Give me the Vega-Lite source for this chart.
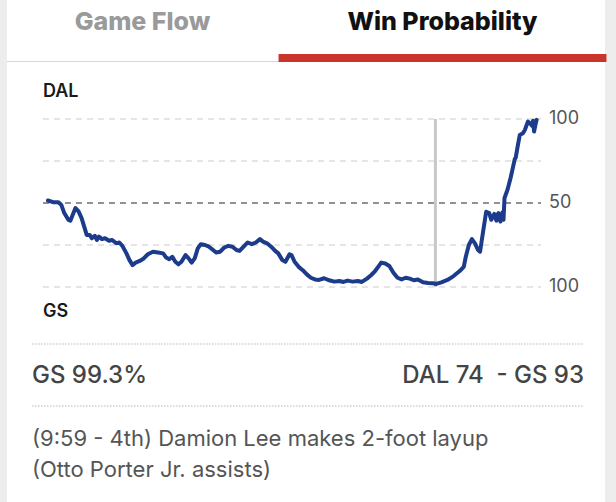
{
  "$schema": "https://vega.github.io/schema/vega-lite/v6.json",
  "background": "#ededed",
  "padding": {"left": 6, "right": 12, "top": 0, "bottom": 0},
  "autosize": {"type": "pad"},
  "spacing": 0,
  "bounds": "flush",
  "config": {"view": {"stroke": null, "fill": "#ffffff"}, "font": "Inter"},
  "datasets": {
    "tabs": [
      {"tab": "Game Flow", "active": 0},
      {"tab": "Win Probability", "active": 1}
    ],
    "wp": [
      {"minute": 0.0, "dal": 51.5}, {"minute": 0.5, "dal": 50.5}, {"minute": 1.0, "dal": 50.5}, {"minute": 1.3, "dal": 49},
      {"minute": 1.6, "dal": 44}, {"minute": 2.0, "dal": 40}, {"minute": 2.2, "dal": 39.5}, {"minute": 2.5, "dal": 44},
      {"minute": 2.7, "dal": 47}, {"minute": 3.0, "dal": 45}, {"minute": 3.3, "dal": 41}, {"minute": 3.6, "dal": 35},
      {"minute": 3.8, "dal": 31}, {"minute": 4.1, "dal": 31}, {"minute": 4.3, "dal": 29}, {"minute": 4.6, "dal": 30.5},
      {"minute": 4.8, "dal": 28}, {"minute": 5.0, "dal": 30}, {"minute": 5.3, "dal": 28.5}, {"minute": 5.6, "dal": 29},
      {"minute": 6.0, "dal": 27.5}, {"minute": 6.3, "dal": 28}, {"minute": 6.7, "dal": 26}, {"minute": 7.0, "dal": 26.5},
      {"minute": 7.3, "dal": 24.5}, {"minute": 7.7, "dal": 20}, {"minute": 8.0, "dal": 16}, {"minute": 8.3, "dal": 13},
      {"minute": 8.6, "dal": 14.5}, {"minute": 9.0, "dal": 15.5}, {"minute": 9.4, "dal": 17}, {"minute": 9.8, "dal": 19.5},
      {"minute": 10.3, "dal": 21}, {"minute": 10.8, "dal": 20.5}, {"minute": 11.3, "dal": 20}, {"minute": 11.6, "dal": 17.5},
      {"minute": 11.9, "dal": 16.5}, {"minute": 12.2, "dal": 18}, {"minute": 12.5, "dal": 15}, {"minute": 12.8, "dal": 13.5},
      {"minute": 13.1, "dal": 15}, {"minute": 13.5, "dal": 19}, {"minute": 13.8, "dal": 17}, {"minute": 14.1, "dal": 14.5},
      {"minute": 14.4, "dal": 17}, {"minute": 14.7, "dal": 23}, {"minute": 15.0, "dal": 25.5}, {"minute": 15.4, "dal": 25},
      {"minute": 15.8, "dal": 24}, {"minute": 16.2, "dal": 22}, {"minute": 16.5, "dal": 20.5}, {"minute": 16.9, "dal": 21},
      {"minute": 17.3, "dal": 23.5}, {"minute": 17.7, "dal": 24.5}, {"minute": 18.1, "dal": 24}, {"minute": 18.5, "dal": 22},
      {"minute": 18.8, "dal": 21.5}, {"minute": 19.2, "dal": 24}, {"minute": 19.6, "dal": 26.5}, {"minute": 20.0, "dal": 25.5},
      {"minute": 20.4, "dal": 26.5}, {"minute": 20.8, "dal": 28.5}, {"minute": 21.1, "dal": 27}, {"minute": 21.5, "dal": 26},
      {"minute": 21.9, "dal": 24}, {"minute": 22.3, "dal": 21.5}, {"minute": 22.6, "dal": 20}, {"minute": 23.0, "dal": 16},
      {"minute": 23.3, "dal": 15}, {"minute": 23.7, "dal": 19.5}, {"minute": 23.9, "dal": 19}, {"minute": 24.2, "dal": 15},
      {"minute": 24.6, "dal": 12}, {"minute": 25.0, "dal": 10}, {"minute": 25.4, "dal": 7.5}, {"minute": 25.8, "dal": 5.5},
      {"minute": 26.2, "dal": 4.5}, {"minute": 26.6, "dal": 4.2}, {"minute": 27.1, "dal": 5.2}, {"minute": 27.6, "dal": 4.0},
      {"minute": 28.1, "dal": 3.2}, {"minute": 28.6, "dal": 3.6}, {"minute": 29.0, "dal": 3.0}, {"minute": 29.4, "dal": 3.8},
      {"minute": 29.9, "dal": 3.2}, {"minute": 30.4, "dal": 3.6}, {"minute": 30.8, "dal": 3.0}, {"minute": 31.3, "dal": 5},
      {"minute": 31.7, "dal": 7}, {"minute": 32.1, "dal": 9.5}, {"minute": 32.4, "dal": 12}, {"minute": 32.7, "dal": 14.5},
      {"minute": 33.1, "dal": 14}, {"minute": 33.5, "dal": 12.5}, {"minute": 33.9, "dal": 8.5}, {"minute": 34.3, "dal": 5.5},
      {"minute": 34.7, "dal": 4.5}, {"minute": 35.1, "dal": 5.5}, {"minute": 35.5, "dal": 5}, {"minute": 35.9, "dal": 4.0},
      {"minute": 36.3, "dal": 4.5}, {"minute": 36.8, "dal": 2.8}, {"minute": 37.3, "dal": 2.4}, {"minute": 37.8, "dal": 2.2},
      {"minute": 38.1, "dal": 1.8}, {"minute": 38.6, "dal": 2.8}, {"minute": 39.2, "dal": 4.2}, {"minute": 39.8, "dal": 6.5},
      {"minute": 40.4, "dal": 9.5}, {"minute": 40.8, "dal": 12}, {"minute": 41.0, "dal": 18}, {"minute": 41.3, "dal": 25},
      {"minute": 41.6, "dal": 28.5}, {"minute": 41.9, "dal": 26}, {"minute": 42.2, "dal": 22}, {"minute": 42.4, "dal": 21},
      {"minute": 42.7, "dal": 33}, {"minute": 43.0, "dal": 44.8}, {"minute": 43.3, "dal": 44}, {"minute": 43.5, "dal": 40},
      {"minute": 43.8, "dal": 43.5}, {"minute": 44.0, "dal": 39.5}, {"minute": 44.2, "dal": 44}, {"minute": 44.4, "dal": 39},
      {"minute": 44.6, "dal": 44.5}, {"minute": 44.7, "dal": 40}, {"minute": 44.8, "dal": 53}, {"minute": 45.1, "dal": 58},
      {"minute": 45.4, "dal": 65}, {"minute": 45.8, "dal": 76}, {"minute": 45.9, "dal": 77}, {"minute": 46.1, "dal": 84},
      {"minute": 46.3, "dal": 90.5}, {"minute": 46.6, "dal": 91.5}, {"minute": 46.8, "dal": 93.5}, {"minute": 47.1, "dal": 98.5},
      {"minute": 47.3, "dal": 97.5}, {"minute": 47.5, "dal": 96}, {"minute": 47.6, "dal": 99}, {"minute": 47.7, "dal": 92.5},
      {"minute": 47.85, "dal": 97}, {"minute": 47.95, "dal": 99.5}
    ],
    "grid": [
      {"level": 0, "label": "100"}, {"level": 25, "label": ""}, {"level": 50, "label": "50"},
      {"level": 75, "label": ""}, {"level": 100, "label": "100"}
    ],
    "current": [{"minute": 38.02}],
    "teams": [{"team": "DAL"}, {"team": "GS"}],
    "footer": [
      {"row": "sep1", "kind": "rule"},
      {"row": "summary", "kind": "text", "left": "GS 99.3%", "right": "DAL 74\u00a0 - GS 93"},
      {"row": "sep2", "kind": "rule"},
      {"row": "play1", "kind": "play", "left": "(9:59 - 4th) Damion Lee makes 2-foot layup"},
      {"row": "play2", "kind": "play", "left": "(Otto Porter Jr. assists)"}
    ]
  },
  "vconcat": [
    {
      "width": 598,
      "height": 62,
      "data": {"name": "tabs"},
      "layer": [
        {
          "mark": {"type": "rule", "color": "#d6d6d6", "strokeWidth": 2},
          "encoding": {"y": {"datum": 0, "type": "quantitative", "scale": {"domain": [0, 7.75], "nice": false}, "axis": null}}
        },
        {
          "transform": [{"filter": "datum.active == 1"}],
          "mark": {"type": "bar", "color": "#c9342b", "width": {"band": 1.093}},
          "encoding": {
            "x": {"field": "tab", "type": "nominal", "sort": null, "axis": null,
                  "scale": {"type": "band", "domain": ["Game Flow", "Win Probability"], "range": [-14.5, 585.5], "paddingInner": 0, "paddingOuter": 0}},
            "y": {"field": "active", "type": "quantitative", "axis": null}
          }
        },
        {
          "mark": {"type": "text", "font": "Inter", "fontSize": 25, "fontWeight": 800, "baseline": "middle", "dy": -9},
          "encoding": {
            "x": {"field": "tab", "type": "nominal", "sort": null, "axis": null},
            "text": {"field": "tab"},
            "color": {"condition": {"test": "datum.active == 1", "value": "#111111"}, "value": "#9a9a9a"}
          }
        }
      ]
    },
    {
      "width": 598,
      "height": 268,
      "layer": [
        {
          "data": {"name": "grid"},
          "mark": {"type": "rule", "strokeWidth": 1.5, "strokeDash": [6, 5]},
          "encoding": {
            "y": {"field": "level", "type": "quantitative", "axis": null},
            "x": {"datum": -0.49, "type": "quantitative", "axis": null},
            "x2": {"datum": 48.38},
            "color": {"condition": {"test": "datum.level == 50", "value": "#6e6e6e"}, "value": "#dddddd"}
          }
        },
        {
          "data": {"name": "grid"},
          "mark": {"type": "text", "align": "left", "baseline": "middle", "dx": 8, "font": "Inter", "fontSize": 18, "color": "#555555"},
          "encoding": {
            "y": {"field": "level", "type": "quantitative", "axis": null},
            "x": {"datum": 48.38, "type": "quantitative", "axis": null},
            "text": {"field": "label"}
          }
        },
        {
          "data": {"name": "current"},
          "mark": {"type": "rule", "color": "#c8c8c8", "strokeWidth": 3},
          "encoding": {
            "x": {"field": "minute", "type": "quantitative", "axis": null},
            "y": {"datum": 0, "type": "quantitative", "axis": null},
            "y2": {"datum": 100}
          }
        },
        {
          "data": {"name": "wp"},
          "mark": {"type": "line", "color": "#1d3b8b", "strokeWidth": 4, "strokeJoin": "round", "strokeCap": "round"},
          "encoding": {
            "x": {"field": "minute", "type": "quantitative", "axis": null,
                  "scale": {"domain": [-4.02, 54.66], "nice": false, "zero": false}},
            "y": {"field": "dal", "type": "quantitative", "axis": null,
                  "scale": {"domain": [-25.6, 133.93], "nice": false, "zero": false}}
          }
        },
        {
          "data": {"name": "teams"},
          "transform": [{"filter": "datum.team == 'DAL'"}],
          "mark": {"type": "text", "align": "left", "baseline": "middle", "dy": -27, "font": "Inter", "fontSize": 18, "fontWeight": 600, "color": "#1a1a1a"},
          "encoding": {
            "x": {"datum": -0.49, "type": "quantitative", "axis": null},
            "y": {"datum": 100, "type": "quantitative", "axis": null},
            "text": {"field": "team"}
          }
        },
        {
          "data": {"name": "teams"},
          "transform": [{"filter": "datum.team == 'GS'"}],
          "mark": {"type": "text", "align": "left", "baseline": "middle", "dy": 25, "font": "Inter", "fontSize": 18, "fontWeight": 600, "color": "#1a1a1a"},
          "encoding": {
            "x": {"datum": -0.49, "type": "quantitative", "axis": null},
            "y": {"datum": 0, "type": "quantitative", "axis": null},
            "text": {"field": "team"}
          }
        }
      ]
    },
    {
      "width": 598,
      "height": 172,
      "data": {"name": "footer"},
      "layer": [
        {
          "transform": [{"filter": "datum.kind == 'rule'"}],
          "mark": {"type": "rule", "color": "#cfcfcf", "strokeWidth": 1.5, "strokeDash": [1.5, 1.5]},
          "encoding": {
            "y": {"field": "row", "type": "nominal", "axis": null,
                  "scale": {"type": "point", "domain": ["sep1", "summary", "sep2", "play1", "play2"], "range": [14, 138], "padding": 0}},
            "x": {"datum": 0, "type": "quantitative", "axis": null, "scale": {"domain": [0, 1], "range": [25, 577], "nice": false, "zero": false}},
            "x2": {"datum": 1}
          }
        },
        {
          "transform": [{"filter": "datum.kind == 'text'"}],
          "mark": {"type": "text", "align": "left", "baseline": "middle", "dy": 1, "font": "Inter", "fontSize": 24, "fontWeight": 500, "color": "#444444"},
          "encoding": {
            "y": {"field": "row", "type": "nominal", "axis": null},
            "x": {"datum": 0, "type": "quantitative", "axis": null},
            "text": {"field": "left"}
          }
        },
        {
          "transform": [{"filter": "datum.kind == 'text'"}],
          "mark": {"type": "text", "align": "right", "baseline": "middle", "dy": 1, "font": "Inter", "fontSize": 24, "fontWeight": 500, "color": "#444444"},
          "encoding": {
            "y": {"field": "row", "type": "nominal", "axis": null},
            "x": {"datum": 1, "type": "quantitative", "axis": null},
            "text": {"field": "right"}
          }
        },
        {
          "transform": [{"filter": "datum.kind == 'play'"}],
          "mark": {"type": "text", "align": "left", "baseline": "middle", "dy": 2, "font": "Inter", "fontSize": 22, "fontWeight": 400, "color": "#555555"},
          "encoding": {
            "y": {"field": "row", "type": "nominal", "axis": null},
            "x": {"datum": 0, "type": "quantitative", "axis": null},
            "text": {"field": "left"}
          }
        }
      ]
    }
  ]
}
